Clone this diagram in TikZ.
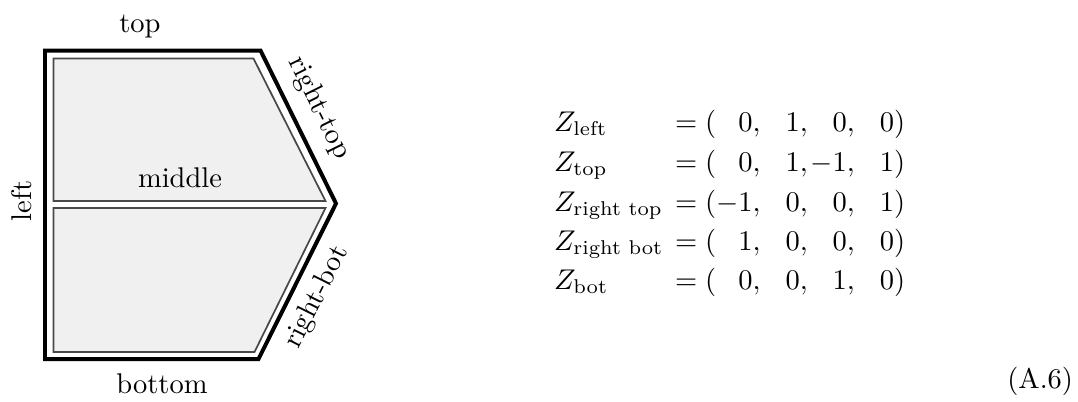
\documentclass[tikz,border=0pt]{standalone}
\usepackage{amsmath}
\definecolor{cellfill}{HTML}{F0F0F0}
\definecolor{celledge}{HTML}{484848}
\newcommand{\tsep}{{,}\mkern1.8mu}
\newcommand{\ph}{\phantom{-}}
\begin{document}
\begin{tikzpicture}[x=0.3509pt,y=-0.3509pt,
  outerline/.style={draw=black,line width=1.4pt,line join=miter},
  cell/.style={fill=cellfill,draw=celledge,line width=0.6pt,line join=miter},
  lab/.style={inner sep=0pt,outer sep=0pt},
  eqrow/.style={inner sep=0pt,outer sep=0pt,anchor=base west}]
\useasboundingbox (0,0) rectangle (1078,401);
% cells
\path[cell] (53.5,58.5) -- (253.5,58.5) -- (325.5,201) -- (53.5,201) -- cycle;
\path[cell] (53.5,208) -- (325.5,208) -- (254.5,352) -- (53.5,352) -- cycle;
% outer boundary
\path[outerline] (45,50.5) -- (260.5,50.5) -- (336,203.5) -- (258.5,359) -- (45,359) -- cycle;
% labels
\node[lab,anchor=base] (ltop) at (140,32.3) {top};
\node[lab,anchor=base] (lbot) at (162,393) {bottom};
\node[lab,anchor=base] (lmid) at (180,187) {middle};
\node[lab,anchor=base,rotate=90] (lleft) at (31.7,201) {left};
\node[lab,rotate=-63.7] (lrt) at (319,108) {right-top};
\node[lab,rotate=63.3] (lrb) at (317,297) {right-bot};
% equations
\node[eqrow] (z1) at (554,131.7) {$Z_{\text{left}}$};
\node[eqrow] (z2) at (554,171.7) {$Z_{\text{top}}$};
\node[eqrow] (z3) at (554,211) {$Z_{\text{right top}}$};
\node[eqrow] (z4) at (554,250.3) {$Z_{\text{right bot}}$};
\node[eqrow] (z5) at (554,289.3) {$Z_{\text{bot}}$};
\node[eqrow] (t1) at (675,131.7) {$=(\ph0\tsep\ph1\tsep\ph0\tsep\ph0)$};
\node[eqrow] (t2) at (675,171.7) {$=(\ph0\tsep\ph1\tsep{-}1\tsep\ph1)$};
\node[eqrow] (t3) at (675,211) {$=({-}1\tsep\ph0\tsep\ph0\tsep\ph1)$};
\node[eqrow] (t4) at (675,250.3) {$=(\ph1\tsep\ph0\tsep\ph0\tsep\ph0)$};
\node[eqrow] (t5) at (675,289.3) {$=(\ph0\tsep\ph0\tsep\ph1\tsep\ph0)$};
\node[lab,anchor=base east] (eqno) at (1073,388) {(A.6)};
\end{tikzpicture}
\end{document}
